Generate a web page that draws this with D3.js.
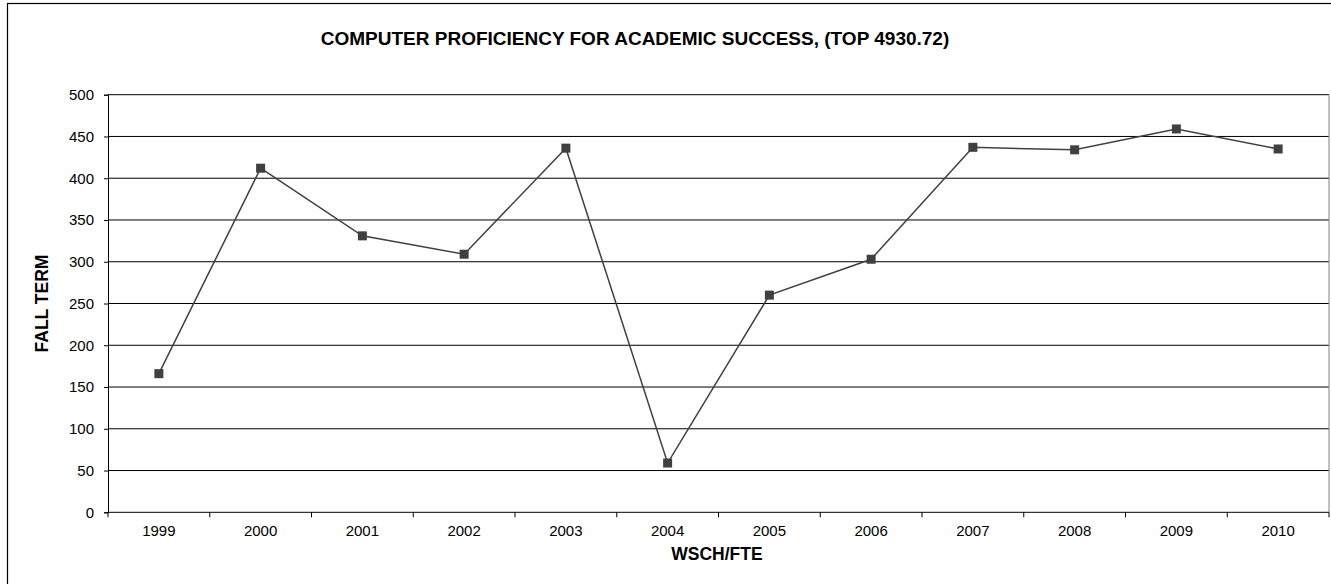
<!DOCTYPE html>
<html>
<head>
<meta charset="utf-8">
<script src="https://cdn.jsdelivr.net/npm/d3@7"></script>
<style>
  html, body { margin: 0; padding: 0; background: #fff; }
  svg { display: block; font-family: "Liberation Sans", Arial, sans-serif; }
</style>
</head>
<body>
<svg id="chart" width="1331" height="584"></svg>
<script>
const years = ["1999","2000","2001","2002","2003","2004","2005","2006","2007","2008","2009","2010"];
const values = [166, 412, 331, 309, 436, 59, 260, 303, 437, 434, 459, 435];
const yTicks = [0, 50, 100, 150, 200, 250, 300, 350, 400, 450, 500];
const titleText = "COMPUTER PROFICIENCY FOR ACADEMIC SUCCESS, (TOP 4930.72)";
const xTitle = "WSCH/FTE";
const yTitle = "FALL TERM";

const svg = d3.select("#chart");
const L = 108, R = 1329, T = 94.7, B = 512.3;
const FONT = "Liberation Sans, Arial, sans-serif";

// outer border (cropped at right/bottom)
svg.append("rect").attr("x", 7.5).attr("y", 3.5).attr("width", 1340).attr("height", 600)
  .attr("fill", "none").attr("stroke", "#000").attr("stroke-width", 1.2);

const x = d3.scaleBand().domain(years).range([L, R]).padding(0);
const y = d3.scaleLinear().domain([0, 500]).range([B, T]);

// gridlines
svg.append("g").selectAll("line").data(yTicks.filter(d => d > 0)).join("line")
  .attr("x1", L).attr("x2", R)
  .attr("y1", d => y(d)).attr("y2", d => y(d))
  .attr("stroke", "#000").attr("stroke-width", 1);

// right plot border
svg.append("line").attr("x1", R).attr("x2", R).attr("y1", T).attr("y2", B)
  .attr("stroke", "#808080").attr("stroke-width", 1);

// y axis
const yAxis = svg.append("g").attr("transform", `translate(${L},0)`)
  .call(d3.axisLeft(y).tickValues(yTicks).tickSize(4).tickPadding(10));
yAxis.select(".domain").attr("stroke", "#000");
yAxis.selectAll(".tick line").attr("stroke", "#000");
yAxis.selectAll("text").attr("font-size", 15).attr("fill", "#000").attr("font-family", FONT);

// x axis
const xAxis = svg.append("g").attr("transform", `translate(0,${B})`)
  .call(d3.axisBottom(x).tickSize(0).tickPadding(13));
xAxis.select(".domain").attr("stroke", "#000").attr("d", `M${L},0H${R}`);
xAxis.selectAll("text").attr("font-size", 15).attr("fill", "#000").attr("font-family", FONT);
// category boundary ticks
svg.append("g").selectAll("line").data(years).join("line")
  .attr("x1", d => x(d) + x.bandwidth()).attr("x2", d => x(d) + x.bandwidth())
  .attr("y1", B).attr("y2", B + 5).attr("stroke", "#000");
svg.append("line").attr("x1", L).attr("x2", L).attr("y1", B).attr("y2", B + 5).attr("stroke", "#000");

// line
const line = d3.line().x((d, i) => x(years[i]) + x.bandwidth() / 2).y(d => y(d));
svg.append("path").datum(values).attr("d", line)
  .attr("fill", "none").attr("stroke", "#404040").attr("stroke-width", 1.5);

// markers
const ms = 9;
svg.append("g").selectAll("rect").data(values).join("rect")
  .attr("x", (d, i) => x(years[i]) + x.bandwidth() / 2 - ms / 2)
  .attr("y", d => y(d) - ms / 2)
  .attr("width", ms).attr("height", ms)
  .attr("fill", "#404040");

// titles
svg.append("text").attr("x", 635).attr("y", 45).attr("text-anchor", "middle")
  .attr("font-size", 19).attr("font-weight", "bold").text(titleText);
svg.append("text").attr("x", 717).attr("y", 560).attr("text-anchor", "middle")
  .attr("font-size", 17.5).attr("font-weight", "bold").text(xTitle);
svg.append("text").attr("transform", `translate(48,${(T + B) / 2}) rotate(-90)`)
  .attr("text-anchor", "middle").attr("font-size", 17.5).attr("font-weight", "bold").text(yTitle);
</script>
</body>
</html>
